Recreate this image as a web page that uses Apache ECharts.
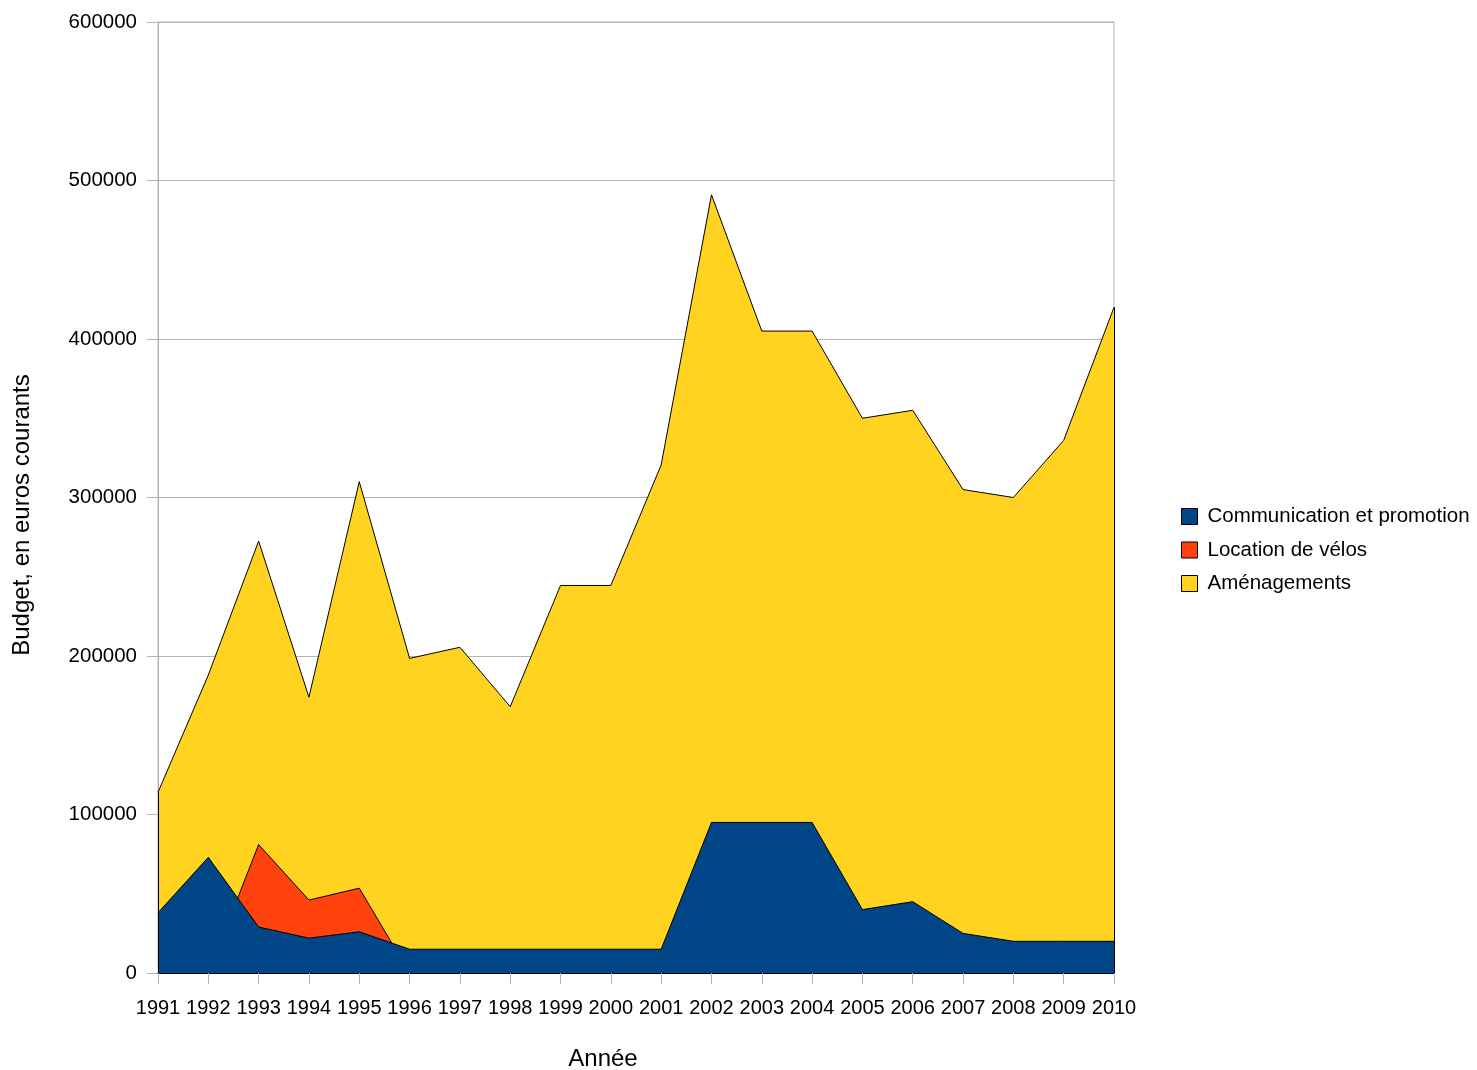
<!DOCTYPE html>
<html>
<head>
<meta charset="utf-8">
<script src="https://cdn.jsdelivr.net/npm/echarts@6/dist/echarts.min.js"></script>
<style>
html,body{margin:0;padding:0;background:#fff;}
#chart{width:1477px;height:1070px;}
</style>
</head>
<body>
<div id="chart"></div>
<script>
const years = ['1991','1992','1993','1994','1995','1996','1997','1998','1999','2000',
               '2001','2002','2003','2004','2005','2006','2007','2008','2009','2010'];
const communication = [38000, 73000, 29000, 22000, 26000, 15000, 15000, 15000, 15000, 15000,
                       15000, 95000, 95000, 95000, 40000, 45000, 25000, 20000, 20000, 20000];
const locationVelos = [null, null, 52000, 24000, 27500, null, null, null, null, null,
                       null, null, null, null, null, null, null, null, null, null];
const amenagements = [76000, 115000, 191500, 128000, 256500, 183500, 190500, 153000, 229500, 229500,
                      305500, 396000, 310000, 310000, 310000, 310000, 280000, 280000, 316000, 400000];
const yTicks = [0, 100000, 200000, 300000, 400000, 500000, 600000];

const names = ['Communication et promotion', 'Location de vélos', 'Aménagements'];
const colors = ['#004586', '#ff420e', '#ffd320'];
const FONT = '"Liberation Sans", Arial, sans-serif';

// Cumulative tops (original software drew the rental layer down to 0 at its empty neighbours)
const totals = years.map((_, i) => communication[i] + (locationVelos[i] || 0) + amenagements[i]);
const locTop = years.map((_, i) => {
  if (locationVelos[i] != null) return communication[i] + locationVelos[i];
  const prev = i > 0 ? locationVelos[i - 1] : null;
  const next = i < years.length - 1 ? locationVelos[i + 1] : null;
  return (prev != null || next != null) ? 0 : null;
});

const edgeLine = { color: '#000', width: 1 };
const chart = echarts.init(document.getElementById('chart'));
chart.setOption({
  animation: false,
  textStyle: { fontFamily: FONT },
  grid: { left: 158, right: 363, top: 22, bottom: 97, show: true, borderColor: '#b3b3b3', borderWidth: 1, backgroundColor: 'transparent' },
  legend: {
    orient: 'vertical', left: 1176, top: 501,
    icon: 'rect', itemWidth: 16, itemHeight: 16, itemGap: 12.5,
    data: names,
    itemStyle: { borderColor: '#000', borderWidth: 1 },
    textStyle: { fontSize: 20.5, color: '#000', fontFamily: FONT, lineHeight: 20, padding: [0, 0, 0, 5] }
  },
  xAxis: {
    type: 'category', data: years, boundaryGap: false, z: 10,
    axisLine: { show: true, lineStyle: { color: '#000', width: 1 } },
    axisTick: { show: true, length: 11, lineStyle: { color: '#b3b3b3' } },
    axisLabel: { fontSize: 20, color: '#000', margin: 25, fontFamily: FONT, interval: 0 },
    splitLine: { show: false }
  },
  yAxis: {
    type: 'value', min: yTicks[0], max: yTicks[yTicks.length - 1], interval: yTicks[1] - yTicks[0],
    axisLine: { show: true, lineStyle: { color: '#b3b3b3' } },
    axisTick: { show: true, length: 11, lineStyle: { color: '#b3b3b3' } },
    axisLabel: { fontSize: 20.5, color: '#000', margin: 21, fontFamily: FONT, formatter: v => String(v) },
    splitLine: { show: true, lineStyle: { color: '#b3b3b3', width: 1 } }
  },
  series: [
    {
      name: names[2], type: 'line', z: 2, data: totals, symbol: 'none', smooth: false,
      itemStyle: { color: colors[2] },
      lineStyle: edgeLine,
      areaStyle: { color: colors[2], opacity: 1 }
    },
    {
      name: names[1], type: 'line', z: 3, data: locTop, symbol: 'none', smooth: false, connectNulls: false,
      itemStyle: { color: colors[1] },
      lineStyle: edgeLine,
      areaStyle: { color: colors[1], opacity: 1 }
    },
    {
      name: names[0], type: 'line', z: 4, data: communication, symbol: 'none', smooth: false,
      itemStyle: { color: colors[0] },
      lineStyle: edgeLine,
      areaStyle: { color: colors[0], opacity: 1 },
      markLine: {
        silent: true, symbol: ['none', 'none'], label: { show: false },
        lineStyle: { color: '#000', width: 1, type: 'solid' },
        data: [
          [{ coord: [0, 0] }, { coord: [0, totals[0]] }],
          [{ coord: [years.length - 1, 0] }, { coord: [years.length - 1, totals[years.length - 1]] }]
        ]
      }
    }
  ],
  graphic: [
    { type: 'text', x: 603, y: 1059, z: 100,
      style: { text: 'Année', fontSize: 24, fontFamily: FONT, fill: '#000', align: 'center', verticalAlign: 'middle' } },
    { type: 'text', x: 22, y: 515, rotation: Math.PI / 2, z: 100,
      style: { text: 'Budget, en euros courants', fontSize: 24, fontFamily: FONT, fill: '#000', align: 'center', verticalAlign: 'middle' } }
  ]
});
</script>
</body>
</html>
